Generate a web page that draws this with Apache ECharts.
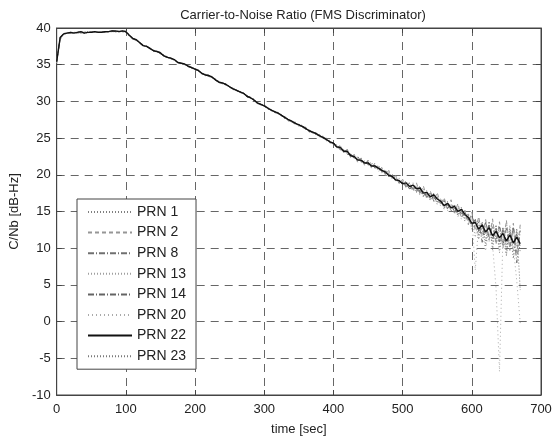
<!DOCTYPE html>
<html>
<head>
    <meta charset="UTF-8">
    <title>Carrier-to-Noise Ratio</title>
    <script src="https://cdn.jsdelivr.net/npm/echarts@6.0.0/dist/echarts.min.js"></script>
    <style>
        body { margin: 0; background: #fff; }
        #chart { width: 555px; height: 441px; }
    </style>
</head>
<body>
    <div id="chart"></div>
    <script>
        // sample times, every 5 s from 0 to 670
        const times = [];
        for (let t = 0; t <= 670; t += 5) times.push(t);

        const xTicks = [0, 100, 200, 300, 400, 500, 600, 700];
        const yTicks = [-10, -5, 0, 5, 10, 15, 20, 25, 30, 35, 40];

        const prnNames = ['PRN 1', 'PRN 2', 'PRN 8', 'PRN 13', 'PRN 14', 'PRN 20', 'PRN 22', 'PRN 23'];

        const prn1 = [35.6, 38.5, 39.1, 39.3, 39.3, 39.4, 39.4, 39.3, 39.4, 39.4, 39.5, 39.4, 39.5, 39.4, 39.4, 39.5, 39.5, 39.5, 39.6, 39.5, 39.4,
            39.1, 38.5, 38.3, 38.1, 37.7, 37.4, 37.3, 36.9, 36.7, 36.6, 36.3, 36.0, 35.8, 35.7, 35.4, 35.2, 35.0, 34.8, 34.7, 34.4,
            34.1, 33.9, 33.6, 33.4, 33.3, 32.8, 32.7, 32.4, 32.3, 31.9, 31.8, 31.4, 31.4, 31.0, 30.8, 30.4, 30.3, 29.8, 29.7, 29.3,
            29.2, 28.7, 28.7, 28.3, 28.2, 27.6, 27.6, 27.1, 27.2, 26.6, 26.8, 26.1, 26.2, 25.6, 25.8, 25.1, 25.3, 24.6, 24.7, 24.1,
            24.1, 23.4, 23.5, 22.9, 22.9, 22.2, 22.4, 21.7, 21.9, 21.3, 21.5, 20.9, 21.2, 20.3, 20.7, 19.7, 20.1, 19.1, 19.5, 18.6,
            19.2, 18.0, 18.9, 17.7, 18.5, 17.1, 17.9, 16.6, 17.5, 16.2, 16.8, 15.3, 16.4, 15.0, 16.0, 14.3, 15.6, 14.0, 14.8, 12.6,
            14.0, 11.8, 13.6, 11.0, 13.4, 10.6, 13.0, 10.2, 12.8, 9.8, 12.6, 9.6, 12.4, 9.5];
        const prn2 = [35.3, 38.4, 39.2, 39.2, 39.4, 39.4, 39.3, 39.4, 39.4, 39.5, 39.4, 39.4, 39.5, 39.5, 39.4, 39.6, 39.5, 39.6, 39.5, 39.5, 39.6,
            38.9, 38.6, 38.3, 37.9, 37.6, 37.6, 37.1, 37.0, 36.8, 36.5, 36.2, 36.1, 35.9, 35.6, 35.3, 35.3, 35.0, 34.9, 34.6, 34.3,
            34.3, 33.8, 33.7, 33.4, 33.2, 33.0, 32.5, 32.6, 32.2, 32.1, 31.6, 31.6, 31.2, 31.2, 30.6, 30.6, 30.1, 29.9, 29.5, 29.5,
            29.0, 28.9, 28.4, 28.5, 28.0, 27.9, 27.3, 27.4, 26.8, 26.9, 26.4, 26.5, 25.8, 26.0, 25.4, 25.5, 24.9, 25.0, 24.3, 24.5,
            23.6, 23.9, 23.0, 23.5, 22.3, 22.8, 21.7, 22.3, 21.3, 22.0, 20.9, 21.6, 20.6, 21.0, 20.0, 20.6, 19.5, 19.9, 18.8, 19.4,
            18.2, 19.0, 17.9, 18.9, 17.4, 18.5, 16.8, 17.8, 16.4, 17.6, 15.9, 16.9, 15.2, 16.6, 14.8, 16.1, 14.1, 15.2, 13.2, 14.9,
            12.4, 14.3, 11.6, 13.9, 11.1, 14.0, 10.5, 13.6, 10.0, 13.8, 9.7, 13.4, 9.4, 13.2];
        const prn8 = [35.5, 38.6, 39.3, 39.3, 39.4, 39.3, 39.5, 39.4, 39.4, 39.3, 39.5, 39.4, 39.4, 39.5, 39.5, 39.4, 39.6, 39.5, 39.6, 39.5, 39.5,
            39.0, 38.5, 38.5, 38.0, 37.5, 37.5, 37.3, 36.8, 36.8, 36.7, 36.1, 36.0, 35.9, 35.6, 35.3, 35.1, 35.1, 34.7, 34.6, 34.5,
            34.2, 33.7, 33.6, 33.6, 33.2, 32.9, 32.7, 32.5, 32.2, 32.0, 31.8, 31.5, 31.2, 31.1, 30.8, 30.4, 30.2, 29.9, 29.6, 29.4,
            28.9, 28.9, 28.5, 28.3, 28.2, 27.7, 27.6, 27.2, 26.9, 26.9, 26.5, 26.2, 26.1, 25.7, 25.5, 25.4, 25.0, 24.9, 24.4, 24.4,
            23.7, 24.0, 23.1, 23.3, 22.8, 22.2, 22.5, 21.8, 21.8, 21.4, 21.7, 20.9, 21.3, 20.4, 20.5, 20.2, 19.6, 19.7, 18.9, 19.1,
            18.4, 18.8, 18.0, 18.3, 17.6, 17.8, 16.9, 17.6, 16.5, 17.0, 16.0, 16.5, 15.4, 15.9, 15.0, 15.4, 14.7, 14.9, 13.9, 14.4,
            12.9, 13.6, 10.8, 13.5, 11.5, 13.0, 11.1, 12.9, 10.4, 12.7, 10.2, 12.9, 8.0, 12.4];
        const prn13 = [35.4, 38.6, 39.2, 39.4, 39.3, 39.4, 39.3, 39.4, 39.5, 39.4, 39.4, 39.4, 39.5, 39.4, 39.5, 39.5, 39.5, 39.6, 39.5, 39.5, 39.5,
            39.1, 38.4, 38.4, 38.0, 37.7, 37.4, 37.2, 37.0, 36.7, 36.6, 36.3, 35.9, 35.9, 35.6, 35.4, 35.2, 35.0, 34.9, 34.5, 34.4,
            34.3, 33.9, 33.5, 33.5, 33.4, 32.8, 32.6, 32.6, 32.2, 32.0, 31.6, 31.6, 31.3, 31.0, 30.8, 30.6, 30.1, 29.8, 29.7, 29.3,
            29.2, 28.7, 28.6, 28.5, 28.0, 27.8, 27.4, 27.3, 27.1, 26.7, 26.7, 26.2, 26.1, 25.9, 25.4, 25.3, 25.2, 24.7, 24.6, 24.2,
            24.0, 23.5, 23.5, 23.0, 22.6, 22.6, 21.9, 22.2, 21.5, 21.8, 21.0, 21.4, 20.6, 20.8, 20.1, 20.5, 19.5, 19.6, 19.0, 19.3,
            18.5, 18.8, 17.9, 18.4, 17.3, 18.1, 17.0, 17.4, 16.8, 16.9, 16.0, 16.7, 15.6, 15.8, 15.4, 15.6, 14.3, 15.2, 13.8, 14.0,
            11.5, 14.1, 12.2, 13.1, 10.9, 13.7, 11.3, 12.4, 11.1, 13.5, 10.5, 12.3, 10.3, 12.8];
        const prn14 = [35.6, 38.7, 39.2, 39.3, 39.3, 39.4, 39.4, 39.4, 39.3, 39.5, 39.4, 39.5, 39.4, 39.5, 39.4, 39.5, 39.6, 39.5, 39.5, 39.6, 39.5,
            38.9, 38.5, 38.4, 38.1, 37.6, 37.5, 37.2, 36.9, 36.8, 36.5, 36.2, 36.1, 35.8, 35.7, 35.3, 35.2, 35.1, 34.8, 34.6, 34.4,
            34.1, 33.8, 33.7, 33.5, 33.2, 33.0, 32.6, 32.4, 32.4, 31.9, 31.7, 31.5, 31.3, 31.1, 30.6, 30.5, 30.3, 29.7, 29.6, 29.5,
            29.1, 28.8, 28.5, 28.4, 28.1, 27.9, 27.5, 27.2, 27.1, 26.7, 26.6, 26.4, 25.9, 25.8, 25.7, 25.2, 25.1, 24.9, 24.4, 24.4,
            23.9, 23.4, 23.4, 22.8, 22.7, 22.3, 22.1, 21.9, 21.5, 21.8, 21.1, 21.3, 20.7, 20.7, 20.2, 20.1, 19.7, 19.2, 19.3, 18.7,
            18.7, 18.1, 18.3, 17.8, 17.9, 17.2, 17.4, 16.8, 17.0, 16.3, 16.5, 15.6, 15.9, 15.3, 15.5, 14.6, 15.0, 14.3, 14.0, 13.1,
            13.9, 12.3, 12.9, 11.9, 13.2, 11.2, 12.7, 10.9, 12.5, 10.5, 12.1, 10.9, 11.9, 10.2];
        const prn20 = [35.2, 38.4, 39.1, 39.3, 39.3, 39.4, 39.3, 39.4, 39.4, 39.4, 39.5, 39.4, 39.4, 39.5, 39.4, 39.5, 39.5, 39.5, 39.6, 39.6, 39.5,
            39.0, 38.6, 38.3, 38.0, 37.7, 37.4, 37.2, 37.0, 36.7, 36.6, 36.2, 36.0, 35.8, 35.7, 35.4, 35.1, 35.0, 34.8, 34.7, 34.3,
            34.2, 33.9, 33.5, 33.5, 33.3, 32.9, 32.6, 32.4, 32.3, 32.0, 31.7, 31.4, 31.3, 31.1, 30.7, 30.4, 30.3, 29.9, 29.5, 29.4,
            29.1, 28.7, 28.7, 28.3, 28.0, 27.9, 27.4, 27.4, 26.9, 26.8, 26.5, 26.4, 25.9, 25.8, 25.5, 25.3, 25.0, 24.7, 24.6, 24.1,
            24.0, 23.6, 23.1, 23.4, 22.5, 22.6, 21.9, 22.1, 21.4, 21.9, 20.9, 21.5, 20.4, 20.9, 19.9, 20.4, 19.4, 19.8, 18.8, 19.2,
            18.3, 18.7, 17.7, 18.6, 17.2, 18.0, 16.7, 17.3, 16.3, 17.1, 15.7, 16.6, 15.1, 16.0, 14.6, 15.7, 13.9, 15.1, 13.5, 14.3,
            7.0, 13.3, 12.3, 9.6, 13.0, 10.4, 4.6, -6.8, 11.6, 9.0, 12.6, 10.1, 5.5, -0.2];
        const prn22 = [35.4, 38.7, 39.2, 39.3, 39.4, 39.3, 39.4, 39.5, 39.3, 39.4, 39.4, 39.5, 39.4, 39.4, 39.5, 39.5, 39.6, 39.6, 39.5, 39.6, 39.5,
            39.0, 38.6, 38.4, 38.0, 37.6, 37.5, 37.2, 36.9, 36.8, 36.6, 36.2, 36.0, 35.9, 35.7, 35.3, 35.2, 35.1, 34.8, 34.6, 34.4,
            34.2, 33.8, 33.6, 33.5, 33.3, 32.9, 32.6, 32.5, 32.3, 32.0, 31.7, 31.5, 31.3, 31.1, 30.7, 30.5, 30.2, 29.8, 29.6, 29.4,
            29.1, 28.8, 28.6, 28.4, 28.1, 27.8, 27.5, 27.3, 27.0, 26.8, 26.6, 26.3, 26.0, 25.8, 25.6, 25.3, 25.1, 24.8, 24.5, 24.3,
            23.8, 23.7, 23.2, 23.2, 22.6, 22.5, 22.0, 22.0, 21.6, 21.6, 21.2, 21.2, 20.9, 20.6, 20.4, 19.9, 19.8, 19.3, 19.2, 18.8,
            18.9, 18.4, 18.6, 18.1, 18.2, 17.5, 17.6, 17.0, 17.3, 16.7, 16.4, 15.8, 16.1, 15.5, 15.7, 15.0, 15.3, 14.6, 14.2, 13.4,
            13.5, 12.6, 13.2, 12.2, 12.8, 11.7, 12.3, 11.4, 12.0, 11.0, 11.8, 10.7, 11.5, 10.6];
        const prn23 = [35.5, 38.5, 39.2, 39.3, 39.4, 39.4, 39.4, 39.3, 39.4, 39.4, 39.5, 39.5, 39.4, 39.4, 39.5, 39.5, 39.6, 39.5, 39.5, 39.6, 39.5,
            39.0, 38.5, 38.4, 38.1, 37.6, 37.5, 37.3, 36.9, 36.8, 36.6, 36.2, 36.1, 35.9, 35.6, 35.4, 35.2, 35.1, 34.8, 34.5, 34.4,
            34.2, 33.8, 33.6, 33.6, 33.2, 32.9, 32.7, 32.5, 32.3, 32.0, 31.7, 31.5, 31.2, 31.1, 30.8, 30.5, 30.2, 29.8, 29.6, 29.4,
            29.0, 28.9, 28.5, 28.5, 28.1, 27.7, 27.5, 27.3, 27.0, 26.7, 26.6, 26.3, 26.0, 25.7, 25.6, 25.2, 25.2, 24.7, 24.5, 24.2,
            23.7, 23.8, 23.2, 23.0, 22.8, 22.3, 22.2, 21.8, 21.7, 21.4, 21.4, 21.0, 20.9, 20.4, 20.5, 19.8, 19.9, 19.2, 19.3, 18.7,
            18.6, 18.2, 18.3, 17.6, 18.0, 17.0, 17.7, 16.5, 17.1, 16.0, 16.6, 15.5, 16.2, 15.1, 15.8, 14.5, 15.4, 13.7, 14.6, 13.0,
            13.8, 11.2, 13.5, 10.3, 13.7, 9.8, 13.2, 9.4, 12.9, 9.0, 13.1, 8.6, 12.7, 4.3];

        const prnValues = [prn1, prn2, prn8, prn13, prn14, prn20, prn22, prn23];
        const lineColors = ['#808080', '#969696', '#707070', '#a0a0a0', '#646464', '#aaaaaa', '#111111', '#7a7a7a'];
        const lineTypes = [[1, 2], [4, 3], [6, 2, 1, 2], [1, 2], [6, 2, 1, 2], [1, 3], 'solid', [1, 2]];
        const lineWidths = [1, 1, 1, 1, 1, 1, 1.4, 1];

        const chart = echarts.init(document.getElementById('chart'), null, { renderer: 'canvas' });
        const fontName = 'Liberation Sans';

        const series = prnNames.map((name, i) => ({
            name: name,
            type: 'line',
            symbol: 'none',
            showSymbol: false,
            xAxisIndex: 0,
            yAxisIndex: 0,
            data: times.map((t, k) => [t, prnValues[i][k]]),
            lineStyle: { color: lineColors[i], width: lineWidths[i], type: lineTypes[i] },
            itemStyle: { color: lineColors[i] },
            z: i === 6 ? 3 : 2
        }));

        const option = {
            animation: false,
            backgroundColor: '#fff',
            title: {
                text: 'Carrier-to-Noise Ratio (FMS Discriminator)',
                left: 298,
                textAlign: 'center',
                top: 4,
                textStyle: { fontFamily: fontName, fontSize: 13, fontWeight: 'normal', color: '#222' }
            },
            grid: { left: 56, right: 14, top: 28, bottom: 46, show: true, borderColor: '#444', borderWidth: 1 },
            legend: {
                data: prnNames,
                orient: 'vertical',
                left: 77,
                top: 199,
                itemWidth: 44,
                itemHeight: 14,
                itemGap: 6.6,
                padding: [6, 10, 6, 10],
                backgroundColor: '#fff',
                borderColor: '#444',
                borderWidth: 1,
                borderRadius: 0,
                selectedMode: false,
                // hide the marker dot, keep only the line sample
                itemStyle: { color: 'rgba(0,0,0,0)', borderWidth: 0, opacity: 0 },
                textStyle: { fontFamily: fontName, fontSize: 14, color: '#222' }
            },
            xAxis: [{
                type: 'value',
                min: xTicks[0],
                max: xTicks[xTicks.length - 1],
                interval: 100,
                name: 'time [sec]',
                nameLocation: 'middle',
                nameGap: 28,
                nameTextStyle: { fontFamily: fontName, fontSize: 13, color: '#222' },
                axisLine: { show: true, onZero: false, lineStyle: { color: '#444' } },
                axisTick: { show: true, inside: true, length: 5, lineStyle: { color: '#444' } },
                axisLabel: { fontFamily: fontName, fontSize: 13, color: '#222', margin: 8 },
                splitLine: { show: true, lineStyle: { color: '#666', type: [8, 6], width: 1 } }
            }, {
                type: 'value',
                position: 'top',
                min: xTicks[0],
                max: xTicks[xTicks.length - 1],
                interval: 100,
                axisLine: { show: true, onZero: false, lineStyle: { color: '#444' } },
                axisTick: { show: true, inside: true, length: 5, lineStyle: { color: '#444' } },
                axisLabel: { show: false },
                splitLine: { show: false }
            }],
            yAxis: [{
                type: 'value',
                min: yTicks[0],
                max: yTicks[yTicks.length - 1],
                interval: 5,
                name: 'C/Nb [dB-Hz]',
                nameLocation: 'middle',
                nameGap: 34,
                nameTextStyle: { fontFamily: fontName, fontSize: 13, color: '#222' },
                axisLine: { show: true, onZero: false, lineStyle: { color: '#444' } },
                axisTick: { show: true, inside: true, length: 5, lineStyle: { color: '#444' } },
                axisLabel: { fontFamily: fontName, fontSize: 13, color: '#222', margin: 6 },
                splitLine: { show: true, lineStyle: { color: '#666', type: [8, 6], width: 1 } }
            }, {
                type: 'value',
                position: 'right',
                min: yTicks[0],
                max: yTicks[yTicks.length - 1],
                interval: 5,
                axisLine: { show: true, onZero: false, lineStyle: { color: '#444' } },
                axisTick: { show: true, inside: true, length: 5, lineStyle: { color: '#444' } },
                axisLabel: { show: false },
                splitLine: { show: false }
            }],
            series: series
        };

        chart.setOption(option);
    </script>
</body>
</html>
